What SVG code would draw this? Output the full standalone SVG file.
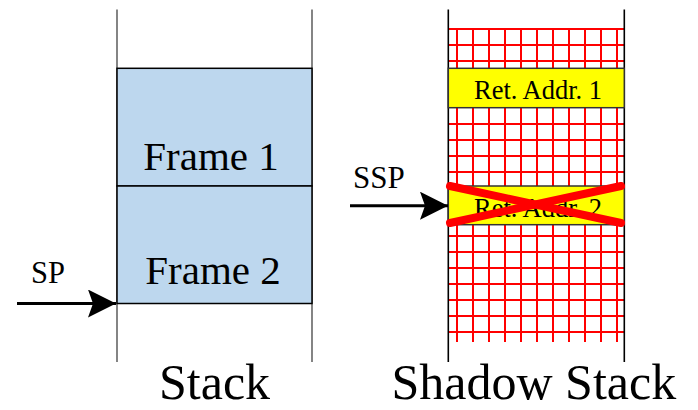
<svg xmlns="http://www.w3.org/2000/svg" width="698" height="410" viewBox="0 0 698 410">
  <style>
    .txt { font-family: "Liberation Serif", "Times New Roman", serif; fill: #000; }
    .rail { stroke: #333; stroke-width: 1.2; fill: none; }
    .rail-dark { stroke: #000; stroke-width: 1.6; fill: none; }
    .frame { fill: #BDD7EE; stroke: #000; stroke-width: 1.5; }
    .ret { fill: #FFFF00; stroke: #333; stroke-width: 1.5; }
    .grid line { stroke: #FF0000; stroke-width: 2; }
    .cross { stroke: #FF0000; stroke-width: 8; stroke-linecap: round; }
    .ptr { stroke: #000; stroke-width: 3; fill: none; marker-end: url(#head); }
  </style>
  <defs>
    <marker id="head" viewBox="0 0 28 28" refX="28" refY="14" markerWidth="28" markerHeight="28" markerUnits="userSpaceOnUse" orient="auto">
      <path d="M0,0 L28,14 L0,28 L5,14 Z" fill="#000"/>
    </marker>
  </defs>

  <rect width="698" height="410" fill="#fff"/>

  <!-- regular call stack -->
  <g id="stack">
    <line class="rail" x1="117" y1="9.5" x2="117" y2="362"/>
    <line class="rail" x1="312" y1="9.5" x2="312" y2="362"/>
  </g>
  <g id="frame1">
    <rect class="frame" x="117" y="68.3" width="195" height="117.7"/>
    <text class="txt" x="211" y="170" font-size="41" text-anchor="middle">Frame 1</text>
  </g>
  <g id="frame2">
    <rect class="frame" x="117" y="186" width="195" height="117.5"/>
    <text class="txt" x="213" y="284.3" font-size="41" text-anchor="middle">Frame 2</text>
  </g>

  <!-- shadow stack with hatched background -->
  <g id="shadow-stack">
    <g class="grid">
      <line x1="457" y1="28" x2="457" y2="342"/>
      <line x1="473" y1="28" x2="473" y2="342"/>
      <line x1="489" y1="28" x2="489" y2="342"/>
      <line x1="505" y1="28" x2="505" y2="342"/>
      <line x1="521" y1="28" x2="521" y2="342"/>
      <line x1="537" y1="28" x2="537" y2="342"/>
      <line x1="553" y1="28" x2="553" y2="342"/>
      <line x1="569" y1="28" x2="569" y2="342"/>
      <line x1="585" y1="28" x2="585" y2="342"/>
      <line x1="601" y1="28" x2="601" y2="342"/>
      <line x1="617" y1="28" x2="617" y2="342"/>
      <line x1="448" y1="29" x2="624" y2="29"/>
      <line x1="448" y1="45" x2="624" y2="45"/>
      <line x1="448" y1="61" x2="624" y2="61"/>
      <line x1="448" y1="124" x2="624" y2="124"/>
      <line x1="448" y1="140" x2="624" y2="140"/>
      <line x1="448" y1="156" x2="624" y2="156"/>
      <line x1="448" y1="172" x2="624" y2="172"/>
      <line x1="448" y1="236" x2="624" y2="236"/>
      <line x1="448" y1="252" x2="624" y2="252"/>
      <line x1="448" y1="268" x2="624" y2="268"/>
      <line x1="448" y1="284" x2="624" y2="284"/>
      <line x1="448" y1="300" x2="624" y2="300"/>
      <line x1="448" y1="316" x2="624" y2="316"/>
      <line x1="448" y1="332" x2="624" y2="332"/>
    </g>
    <line class="rail-dark" x1="448.3" y1="9.5" x2="448.3" y2="362"/>
    <line class="rail-dark" x1="624.3" y1="9.5" x2="624.3" y2="362"/>
  </g>
  <g id="ret-addr-1">
    <rect class="ret" x="448.3" y="68.3" width="176" height="39.4"/>
    <text class="txt" x="538" y="99.3" font-size="26.5" text-anchor="middle">Ret. Addr. 1</text>
  </g>
  <g id="ret-addr-2">
    <rect class="ret" x="448.3" y="186" width="176" height="38.7"/>
    <text class="txt" x="538" y="216.6" font-size="26.5" text-anchor="middle">Ret. Addr. 2</text>
    <line class="cross" x1="450" y1="186" x2="621" y2="223"/>
    <line class="cross" x1="450" y1="223" x2="621" y2="186"/>
  </g>

  <!-- stack pointers -->
  <g id="connectors">
    <line class="ptr" x1="17" y1="303.5" x2="116" y2="303.5"/>
    <line class="ptr" x1="350" y1="205.7" x2="448" y2="205.7"/>
  </g>
  <g id="pointer-labels">
    <text class="txt" x="31" y="283.3" font-size="30.5">SP</text>
    <text class="txt" x="353" y="188.3" font-size="31">SSP</text>
  </g>

  <!-- captions -->
  <g id="captions">
    <text class="txt" x="159" y="399" font-size="50">Stack</text>
    <text class="txt" x="391.5" y="399" font-size="50">Shadow Stack</text>
  </g>
</svg>
